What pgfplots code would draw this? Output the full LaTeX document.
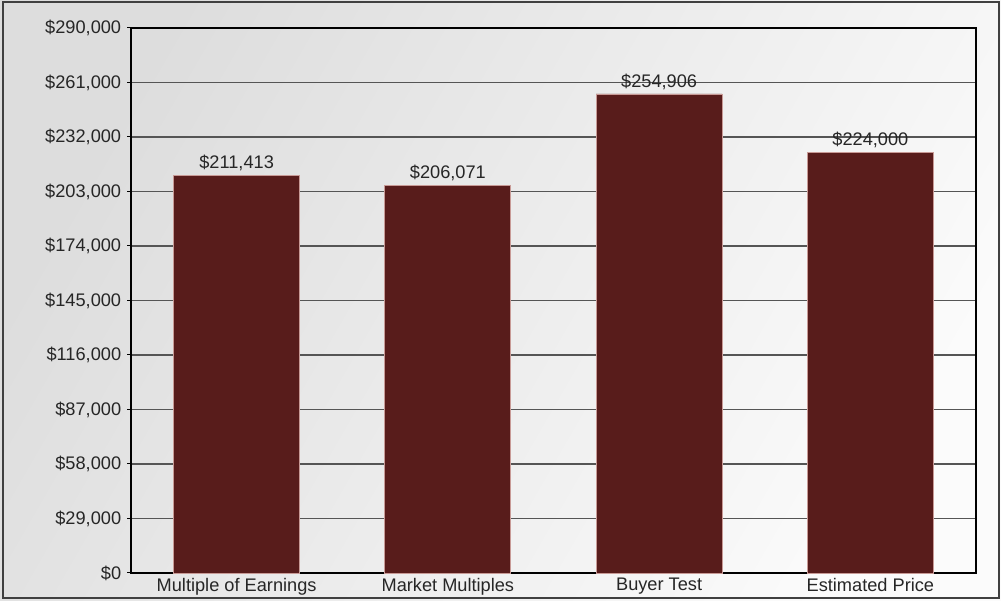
\documentclass[border=0pt]{standalone}
\usepackage{pgfplots}
\pgfplotsset{compat=1.18}
\usepackage{fontspec}
\setmainfont{Liberation Sans}
\definecolor{barc}{HTML}{581C1B}
\definecolor{gridc}{HTML}{555555}
\definecolor{barline}{HTML}{C89A96}
\definecolor{bgA}{HTML}{DDDDDD}
\definecolor{bgB}{HTML}{FBFBFB}
\begin{document}
\begin{tikzpicture}
\shade[left color=bgA, right color=bgB, shading angle=60]
  (0pt,0pt) rectangle (500.5pt,300.5pt);
\draw[line width=1pt, color=black!75] (1.25pt,1.25pt) rectangle (499.25pt,299.25pt);
\begin{axis}[
  at={(65.5pt,14pt)}, anchor=south west,
  scale only axis, width=422.5pt, height=272.5pt,
  xmin=-0.5, xmax=3.5, ymin=0, ymax=290000,
  ytick={0,29000,58000,87000,116000,145000,174000,203000,232000,261000,290000},
  ytick pos=left, xtick pos=bottom,
  scaled y ticks=false,
  yticklabel={\$\pgfmathprintnumber[fixed,1000 sep={,}]{\tick}},
  /pgf/number format/assume math mode=true,
  xtick={0,1,2,3},
  xticklabels={Multiple of Earnings, Market Multiples, Buyer Test, Estimated Price},
  extra x ticks={0.5,1.5,2.5,3.5},
  extra x tick labels={},
  extra x tick style={major tick length=1.5pt, tick style={line width=1.5pt, black}, grid=none},
  x tick style={draw=none},
  y tick style={black, line width=0.5pt},
  tick align=outside, major tick length=2pt,
  ymajorgrids, grid style={gridc, line width=0.85pt},
  axis line style={black, line width=0.6pt},
  tick label style={font=\fontsize{9.1}{10}\selectfont, text=black!85},
  xticklabel style={yshift=2.8pt},
  yticklabel style={xshift=0.6pt},
  ybar, bar width=63pt,
  nodes near coords={\$\pgfmathprintnumber[fixed,1000 sep={,}]{\pgfplotspointmeta}},
  nodes near coords style={font=\fontsize{9.1}{10}\selectfont, text=black!85, anchor=south, yshift=-1.3pt},
  point meta=explicit,
  clip=false,
]
\addplot[fill=barc, draw=barline, line width=0.4pt] coordinates {
  (0,211413) [211413]
  (1,206071) [206071]
  (2,254906) [254906]
  (3,224000) [224000]
};
\end{axis}
\end{tikzpicture}
\end{document}
